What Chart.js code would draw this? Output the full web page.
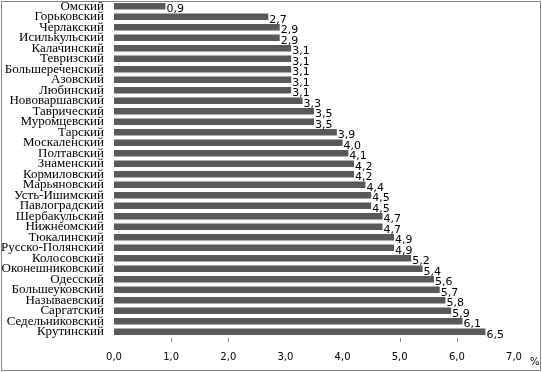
<!DOCTYPE html>
<html>
<head>
<meta charset="utf-8">
<script src="https://cdn.jsdelivr.net/npm/chart.js@4"></script>
<style>
  body { margin: 0; background: #fff; }
  #wrap { width: 542px; height: 372px; position: relative; }
</style>
</head>
<body>
<div id="wrap"><canvas id="chart"></canvas></div>
<script>
// districts, top to bottom
const districts = [
    'Омский', 'Горьковский', 'Черлакский', 'Исилькульский', 'Калачинский',
    'Тевризский', 'Большереченский', 'Азовский', 'Любинский', 'Нововаршавский',
    'Таврический', 'Муромцевский', 'Тарский', 'Москаленский', 'Полтавский',
    'Знаменский', 'Кормиловский', 'Марьяновский', 'Усть-Ишимский', 'Павлоградский',
    'Шербакульский', 'Нижнеомский', 'Тюкалинский', 'Русско-Полянский', 'Колосовский',
    'Оконешниковский', 'Одесский', 'Большеуковский', 'Называевский', 'Саргатский',
    'Седельниковский', 'Крутинский'
];
const shares = [
    0.9, 2.7, 2.9, 2.9, 3.1,
    3.1, 3.1, 3.1, 3.1, 3.3,
    3.5, 3.5, 3.9, 4.0, 4.1,
    4.2, 4.2, 4.4, 4.5, 4.5,
    4.7, 4.7, 4.9, 4.9, 5.2,
    5.4, 5.6, 5.7, 5.8, 5.9,
    6.1, 6.5
];
const xMax = 7;
const unitLabel = '%';
const tickMarks = [1, 2, 5, 6];

const fmt = v => v.toFixed(1).replace('.', ',');

// frame, value labels, unit sign and bottom tick marks
const extras = {
    id: 'extras',
    afterDatasetsDraw(chart) {
        const ctx = chart.ctx;
        const meta = chart.getDatasetMeta(0);
        ctx.save();
        ctx.font = '11px "DejaVu Sans"';
        ctx.fillStyle = '#000';
        ctx.textAlign = 'left';
        ctx.textBaseline = 'middle';
        meta.data.forEach((bar, i) => {
            ctx.fillText(fmt(shares[i]), bar.x + 1, bar.y + 3);
        });

        const xs = chart.scales.x;
        ctx.strokeStyle = '#888';
        ctx.lineWidth = 1;
        tickMarks.forEach(v => {
            const px = Math.round(xs.getPixelForValue(v)) + 0.5;
            ctx.beginPath();
            ctx.moveTo(px, chart.chartArea.bottom + 1);
            ctx.lineTo(px, chart.chartArea.bottom + 5);
            ctx.stroke();
        });

        ctx.font = '10px "DejaVu Sans"';
        ctx.fillStyle = '#000';
        ctx.fillText(unitLabel, 530, 362);

        ctx.strokeStyle = '#868686';
        ctx.strokeRect(1.5, 1.5, chart.width - 3, chart.height - 3);
        ctx.restore();
    }
};

const ctx = document.getElementById('chart').getContext('2d');
new Chart(ctx, {
    type: 'bar',
    data: {
        labels: districts,
        datasets: [{
            data: shares,
            backgroundColor: '#595959',
            barPercentage: 0.62,
            categoryPercentage: 1
        }]
    },
    options: {
        indexAxis: 'y',
        responsive: true,
        maintainAspectRatio: false,
        animation: false,
        layout: { padding: { top: 1, right: 28, bottom: 0, left: 0 } },
        plugins: {
            legend: { display: false },
            tooltip: { enabled: false }
        },
        scales: {
            x: {
                min: 0,
                max: xMax,
                ticks: {
                    stepSize: 1,
                    padding: 14,
                    color: '#000',
                    font: { family: 'DejaVu Sans', size: 10 },
                    callback: v => fmt(v)
                },
                grid: { display: false, drawTicks: false },
                border: { display: false },
                afterFit: s => { s.height = 35; }
            },
            y: {
                ticks: {
                    autoSkip: false,
                    padding: 10,
                    color: '#000',
                    font: { family: 'Liberation Serif', size: 13 }
                },
                grid: { display: false, drawTicks: false },
                border: { display: false },
                afterFit: s => {
                    s.width = 114;
                    s.paddingTop = 0;
                    s.paddingBottom = 0;
                }
            }
        }
    },
    plugins: [extras]
});
</script>
</body>
</html>
